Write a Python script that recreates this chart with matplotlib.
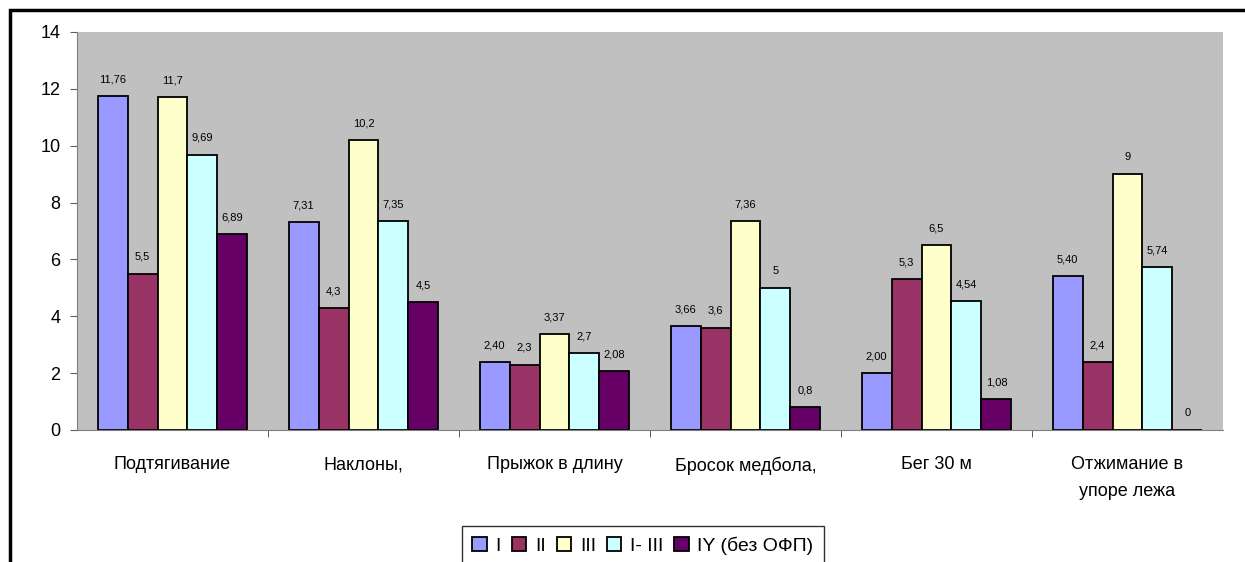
import matplotlib.pyplot as plt
import numpy as np
from matplotlib.patches import Rectangle

categories = ['Подтягивание', 'Наклоны,', 'Прыжок в длину', 'Бросок медбола,',
              'Бег 30 м', 'Отжимание в\nупоре лежа']
series_names = ['I', 'II', 'III', 'I- III', 'IY (без ОФП)']
values_1 = [11.76, 7.31, 2.40, 3.66, 2.00, 5.40]
values_2 = [5.5, 4.3, 2.3, 3.6, 5.3, 2.4]
values_3 = [11.7, 10.2, 3.37, 7.36, 6.5, 9]
values_4 = [9.69, 7.35, 2.7, 5, 4.54, 5.74]
values_5 = [6.89, 4.5, 2.08, 0.8, 1.08, 0]
labels_1 = ['11,76', '7,31', '2,40', '3,66', '2,00', '5,40']
labels_2 = ['5,5', '4,3', '2,3', '3,6', '5,3', '2,4']
labels_3 = ['11,7', '10,2', '3,37', '7,36', '6,5', '9']
labels_4 = ['9,69', '7,35', '2,7', '5', '4,54', '5,74']
labels_5 = ['6,89', '4,5', '2,08', '0,8', '1,08', '0']

colors = ['#9999FF', '#993366', '#FFFFCC', '#CCFFFF', '#660066']

plt.rcParams['font.family'] = ['Liberation Sans', 'DejaVu Sans']

fig = plt.figure(figsize=(12.45, 5.62), dpi=100)
ax = fig.add_axes([77 / 1245, 1 - 430 / 562, (1223 - 77) / 1245, (430 - 32) / 562])
ax.set_facecolor('#C0C0C0')

x = np.arange(len(categories))
width = 0.157
all_values = [values_1, values_2, values_3, values_4, values_5]
all_labels = [labels_1, labels_2, labels_3, labels_4, labels_5]
for i, (vals, labs) in enumerate(zip(all_values, all_labels)):
    pos = x + (i - 2) * width
    ax.bar(pos, vals, width=width, color=colors[i], edgecolor='black',
           linewidth=1.3, label=series_names[i], zorder=2)
    for px, v, lab in zip(pos, vals, labs):
        ax.annotate(lab, (px, v), xytext=(0, 12), textcoords='offset points',
                    ha='center', va='center', fontsize=8)

ax.set_xlim(-0.5, len(categories) - 0.5)
ax.set_ylim(0, 14)
ax.set_yticks(np.arange(0, 15, 2))
ax.tick_params(axis='y', labelsize=13, length=5, color='#606060',
               direction='out', pad=7)
ax.set_xticks(x)
ax.set_xticklabels(categories, fontsize=13, linespacing=1.75)
ax.tick_params(axis='x', length=0, pad=19)
ax.set_xticks(np.arange(0.5, len(categories) - 0.5, 1), minor=True)
ax.tick_params(axis='x', which='minor', length=5, color='#404040')
ax.spines['top'].set_visible(False)
ax.spines['right'].set_visible(False)
ax.spines['left'].set_color('#808080')
ax.spines['bottom'].set_color('#808080')

leg = fig.legend(loc='upper center', bbox_to_anchor=(643 / 1245, 1 - 526 / 562),
                 ncol=5, fontsize=14, frameon=True, fancybox=False,
                 edgecolor='black', handlelength=0.75, handleheight=0.75,
                 handletextpad=0.45, columnspacing=0.55, borderpad=0.55,
                 borderaxespad=0)
leg.get_frame().set_linewidth(1)

fig.patches.append(Rectangle((10 / 1245, -0.1), 1.2, 1.1 - 10 / 562,
                             transform=fig.transFigure, fill=False,
                             edgecolor='black', linewidth=2.5))

fig.savefig('out.png', dpi=100)
